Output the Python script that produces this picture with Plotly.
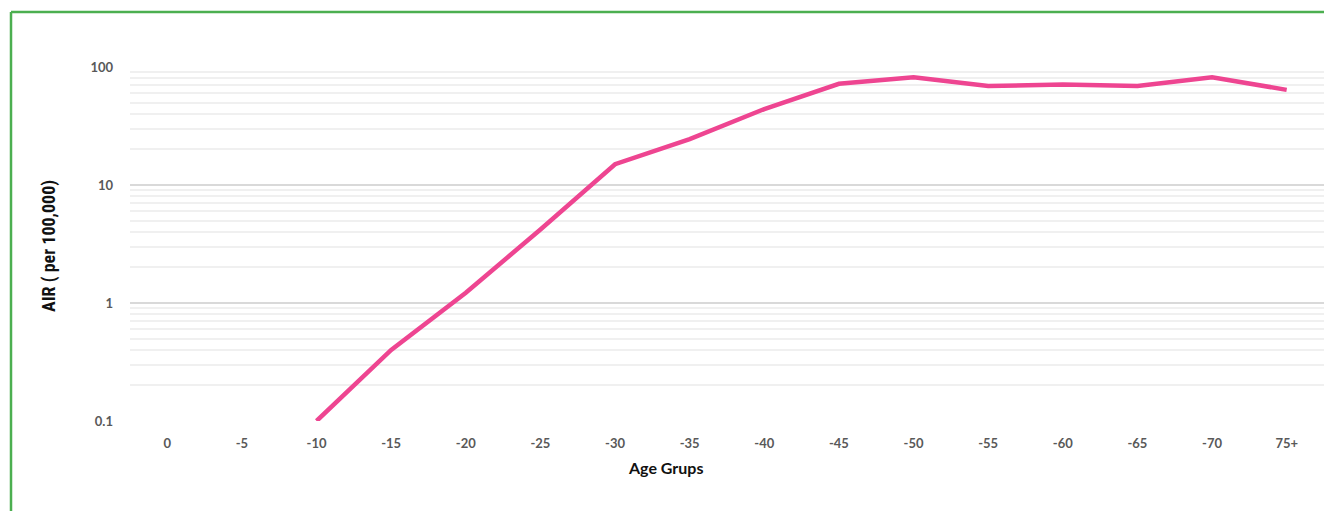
import plotly.graph_objects as go

age_groups = ["0", "-5", "-10", "-15", "-20", "-25", "-30", "-35", "-40",
              "-45", "-50", "-55", "-60", "-65", "-70", "75+"]
air_values = [None, None, 0.1, 0.4, 1.22, 4.2, 15, 24.5, 44,
              72, 82, 69, 71, 69, 82, 64]
y_tick_vals = [0.1, 1, 10, 100]
y_tick_text = ["0.1", "1", "10", "100"]

fig = go.Figure()
fig.add_trace(go.Scatter(
    x=age_groups, y=air_values, mode="lines",
    line=dict(color="#EE4591", width=4.5),
    connectgaps=False, hoverinfo="x+y", showlegend=False,
))

W, H = 1324, 511
L, R, T, B = 130, 0, 67, 90
pw, ph = W - L - R, H - T - B

def px_x(p):
    return (p - L) / pw

def px_y(p):
    return (H - B - p) / ph

tick_font = dict(family="Lato, Open Sans, sans-serif", size=13, color="#595959", weight="bold")

fig.update_layout(
    width=W, height=H,
    margin=dict(l=L, r=R, t=T, b=B, autoexpand=False),
    paper_bgcolor="white", plot_bgcolor="white",
    font=dict(family="Lato, Open Sans, sans-serif"),
    xaxis=dict(
        type="category", range=[-0.5, 15.5], showgrid=False,
        showline=False, zeroline=False, ticks="",
        tickfont=tick_font, ticklabelstandoff=13,
    ),
    yaxis=dict(
        type="log", range=[-1, 2], tickvals=y_tick_vals, ticktext=y_tick_text,
        showgrid=True, gridcolor="#D9D9D9", gridwidth=1.5,
        zeroline=False, showline=False, ticks="",
        tickfont=tick_font, ticklabelstandoff=16,
        minor=dict(dtick="D1", showgrid=True, gridcolor="#F0F0F0", gridwidth=1.5, ticks=""),
    ),
    annotations=[
        dict(text="AIR ( per 100,000)", xref="paper", yref="paper",
             x=px_x(49), y=px_y(246), textangle=-90, showarrow=False,
             font=dict(family="Liberation Sans Narrow, Roboto Condensed, Roboto, sans-serif",
                       size=18, color="#111111", weight="bold"),
             xanchor="center", yanchor="middle"),
        dict(text="Age Grups", xref="paper", yref="paper",
             x=px_x(665), y=px_y(467), showarrow=False,
             font=dict(family="Lato, Open Sans, sans-serif", size=16,
                       color="#111111", weight="bold"),
             xanchor="center", yanchor="middle"),
    ],
    shapes=[
        dict(type="line", xref="paper", yref="paper",
             x0=px_x(11), x1=px_x(11), y0=px_y(12), y1=px_y(520),
             line=dict(color="#4CAF50", width=2.5)),
        dict(type="line", xref="paper", yref="paper",
             x0=px_x(11), x1=px_x(1330), y0=px_y(12), y1=px_y(12),
             line=dict(color="#4CAF50", width=2.5)),
    ],
)

fig.write_html("out.html",
               config={"displayModeBar": False},
               post_script="document.body.style.margin='0';document.body.style.overflow='hidden';")
